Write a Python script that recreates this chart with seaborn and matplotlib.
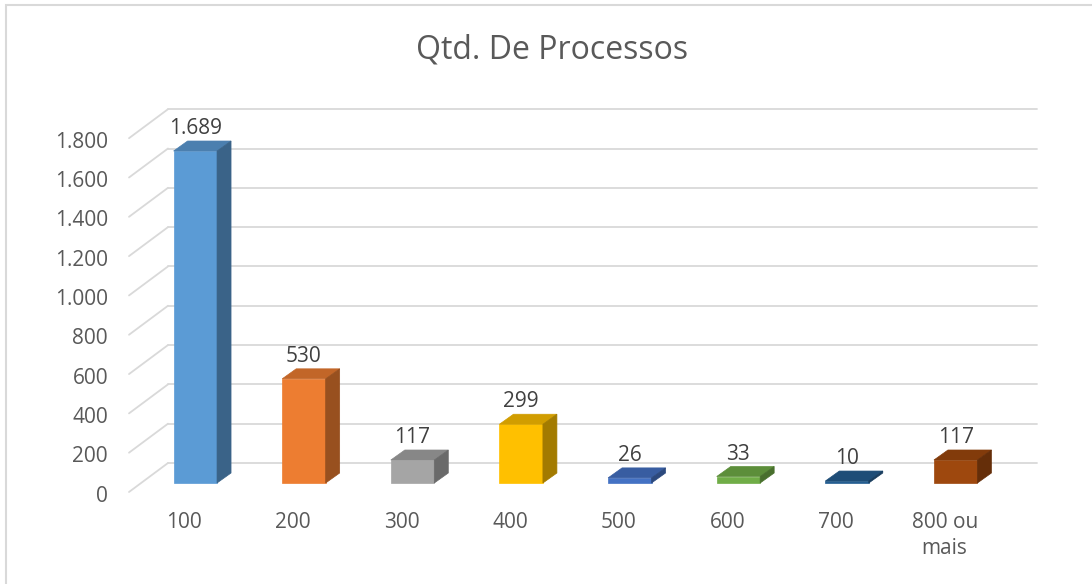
import numpy as np
import pandas as pd
import matplotlib
matplotlib.use("Agg")
import matplotlib.pyplot as plt
import matplotlib.transforms as mtransforms
from matplotlib.patches import Polygon, Rectangle
import seaborn as sns

# dados do grafico
categorias = ['100', '200', '300', '400', '500', '600', '700', '800 ou\nmais']
processos = [1689, 530, 117, 299, 26, 33, 10, 117]
cores = ['#5B9BD5', '#ED7D31', '#A5A5A5', '#FFC000', '#4472C4', '#70AD47', '#255E91', '#9E480E']
yticks = [0, 200, 400, 600, 800, 1000, 1200, 1400, 1600, 1800]
ytick_labels = ['0', '200', '400', '600', '800', '1.000', '1.200', '1.400', '1.600', '1.800']
titulo = 'Qtd. De Processos'

sns.set_style("white")
plt.rcParams['font.family'] = ['Open Sans', 'DejaVu Sans']

W, H = 1092, 584
fig = plt.figure(figsize=(W / 100, H / 100), dpi=100)

# eixo "frontal" das barras (em pixels da imagem)
px_left, px_right = 141, 1010
px_zero = 483
px_per_unit = 0.19656
ymax = 2000
ax = fig.add_axes([px_left / W, (H - px_zero) / H,
                   (px_right - px_left) / W, ymax * px_per_unit / H])

df = pd.DataFrame({'faixa': categorias, 'qtd': processos})
sns.barplot(data=df, x='faixa', y='qtd', hue='faixa', palette=cores,
            width=0.4, saturation=1, legend=False, ax=ax, zorder=3)
ax.set_xlim(-0.5, len(categorias) - 0.5)
ax.set_ylim(0, ymax)
ax.axis('off')

# deslocamentos do efeito 3D (pixels, y para cima)
back = (27, 20)      # parede do fundo
front = (-12, -9)    # borda da frente
depth = (14, 10)     # profundidade da barra
grid_color = '#D9D9D9'

def off(dx, dy):
    return ax.transData + mtransforms.Affine2D().translate(dx, dy)

ident = mtransforms.IdentityTransform()

# linhas de grade na parede do fundo + parede lateral
x0, x1 = ax.get_xlim()
for v in yticks:
    ax.plot([x0, x1], [v, v], color=grid_color, lw=1.3, transform=off(*back),
            zorder=0, clip_on=False)
    p_front = ax.transData.transform((x0, v)) + np.array(front)
    p_back = ax.transData.transform((x0, v)) + np.array(back)
    fig.add_artist(plt.Line2D([p_front[0], p_back[0]], [p_front[1], p_back[1]],
                              color=grid_color, lw=1.3, transform=ident, zorder=0))

def escurecer(c, f):
    r, g, b = matplotlib.colors.to_rgb(c)
    return (r * f, g * f, b * f)

for patch, cor in zip(ax.patches, cores):
    bx, by = patch.get_x(), patch.get_y()
    bw, bh = patch.get_width(), patch.get_height()
    bl = ax.transData.transform((bx, by))
    tl = ax.transData.transform((bx, by + bh))
    tr = ax.transData.transform((bx + bw, by + bh))
    br = ax.transData.transform((bx + bw, by))
    d = np.array(depth)
    topo = Polygon([tl, tr, tr + d, tl + d], closed=True, transform=ident,
                   facecolor=escurecer(cor, 0.82), edgecolor=escurecer(cor, 0.82), lw=0.5, zorder=2)
    lado = Polygon([br, tr, tr + d, br + d], closed=True, transform=ident,
                   facecolor=escurecer(cor, 0.64), edgecolor=escurecer(cor, 0.64), lw=0.5, zorder=2)
    fig.add_artist(topo)
    fig.add_artist(lado)
    patch.set_edgecolor(cor)
    patch.set_linewidth(0.5)
    patch.set_zorder(4)
    patch.set_clip_on(False)

# rotulos de valores
for i, v in enumerate(processos):
    ax.text(i, v, f"{v:,}".replace(',', '.'), ha='center', va='baseline',
            fontsize=15, color='#404040', transform=off(0, 17), zorder=5)

# rotulos do eixo y (na borda da frente)
for v, lab in zip(yticks, ytick_labels):
    ax.text(x0, v, lab, ha='right', va='center', fontsize=15, color='#595959',
            transform=off(-33, -13))

# rotulos do eixo x
for i, lab in enumerate(categorias):
    ax.text(i, 0, lab, ha='center', va='top', fontsize=15, color='#595959',
            transform=off(-11, -29), linespacing=1.3)

fig.text(552 / W, (H - 59) / H, titulo, ha='center', va='baseline',
         fontsize=23, color='#595959')

# moldura do grafico
fig.add_artist(Rectangle((6 / W, -0.1), 1.2, (H - 5) / H + 0.1, transform=fig.transFigure,
                         fill=False, edgecolor='#D9D9D9', lw=1.5))

fig.savefig('out.png', dpi=100)
